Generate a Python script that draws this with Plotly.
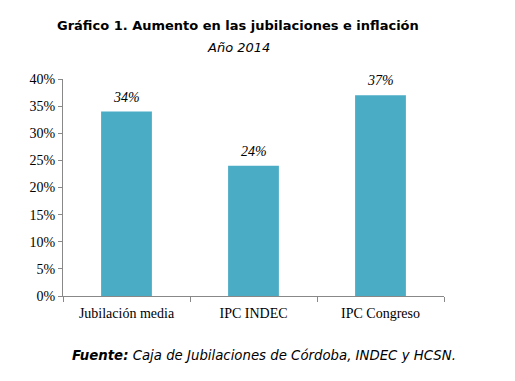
import plotly.graph_objects as go

categories = ["Jubilación media", "IPC INDEC", "IPC Congreso"]
values = [0.34, 0.24, 0.37]
labels = ["34%", "24%", "37%"]
y_ticks = [0, 0.05, 0.10, 0.15, 0.20, 0.25, 0.30, 0.35, 0.40]
y_ticktext = ["0%", "5%", "10%", "15%", "20%", "25%", "30%", "35%", "40%"]

# page has an 8px body margin; figure coordinates are offset accordingly
W, H = 507, 373
L, R, T, B = 55, 71, 71, 85
PW = W - L - R

fig = go.Figure(go.Bar(
    x=categories, y=values, text=labels, textposition="none",
    marker=dict(color="#4BACC6", line=dict(width=0)),
    cliponaxis=False,
))

for c, v, t in zip(categories, values, labels):
    fig.add_annotation(
        x=c, y=v, text=t, showarrow=False, yanchor="bottom", yshift=5,
        font=dict(family="Liberation Serif", size=14, color="#000", style="italic"),
    )

fig.update_layout(
    width=W, height=H,
    margin=dict(l=L, r=R, t=T, b=B),
    paper_bgcolor="white", plot_bgcolor="white",
    bargap=0.6, showlegend=False,
    font=dict(family="Liberation Serif", size=14, color="#000"),
)
fig.update_yaxes(
    range=[0, 0.4], tickvals=y_ticks, ticktext=y_ticktext,
    showgrid=False, zeroline=False, showline=True, linecolor="#888", linewidth=1,
    ticks="outside", ticklen=4, tickcolor="#888", tickfont=dict(size=14),
)
fig.update_xaxes(
    showgrid=False, showline=True, linecolor="#888", linewidth=1,
    ticks="outside", ticklen=5, tickcolor="#888", tickson="boundaries",
    tickfont=dict(size=14), ticklabelstandoff=4,
)

fig.add_annotation(
    text="<b>Gráfico 1. Aumento en las jubilaciones e inflación</b>",
    xref="paper", yref="paper", x=(230 - L) / PW, y=1, yshift=54,
    xanchor="center", yanchor="middle", showarrow=False,
    font=dict(family="DejaVu Sans", size=13, color="#000"),
)
fig.add_annotation(
    text="<i>Año 2014</i>",
    xref="paper", yref="paper", x=(230 - L) / PW, y=1, yshift=32,
    xanchor="center", yanchor="middle", showarrow=False,
    font=dict(family="DejaVu Sans", size=13, color="#000"),
)
fig.add_annotation(
    text="<b><i>Fuente:</i></b><i> Caja de Jubilaciones de Córdoba, INDEC y HCSN.</i>",
    xref="paper", yref="paper", x=(62 - L) / PW, y=0, yshift=-59,
    xanchor="left", yanchor="middle", showarrow=False,
    font=dict(family="DejaVu Sans", size=13.3, color="#000"),
)

fig.write_html("out.html")
